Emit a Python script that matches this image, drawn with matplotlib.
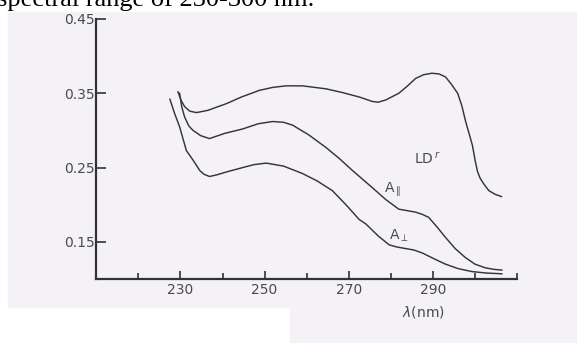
import matplotlib.pyplot as plt
from matplotlib.patches import Rectangle

# wavelength (nm) / absorbance
ld_x = [229.4, 230.2, 231.0, 232.2, 233.8, 236.5, 240.9, 244.5, 248.8, 252.0,
        255.1, 259.0, 264.6, 268.5, 272.5, 275.6, 277.0, 278.8, 281.9, 283.8,
        285.9, 287.8, 289.8, 291.5, 293.0, 294.3, 295.9, 296.9, 297.7, 298.8,
        299.4, 300.1, 300.6, 301.2, 302.1, 303.3, 304.8, 306.3]
ld_y = [0.352, 0.340, 0.332, 0.326, 0.324, 0.327, 0.336, 0.345, 0.354, 0.358,
        0.360, 0.360, 0.356, 0.351, 0.345, 0.339, 0.338, 0.341, 0.350, 0.359,
        0.370, 0.375, 0.377, 0.376, 0.372, 0.363, 0.350, 0.333, 0.314, 0.292,
        0.280, 0.258, 0.245, 0.236, 0.228, 0.219, 0.214, 0.211]

apar_x = [229.8, 230.3, 231.0, 232.0, 233.0, 234.8, 236.9, 240.5, 244.8, 248.5,
          251.9, 254.5, 256.7, 260.5, 264.6, 267.8, 270.9, 275.6, 278.8, 281.9,
          283.9, 285.9, 287.5, 289.0, 291.0, 293.0, 295.3, 297.7, 300.0, 302.5,
          304.5, 306.4]
apar_y = [0.350, 0.332, 0.318, 0.306, 0.300, 0.293, 0.289, 0.296, 0.302, 0.309,
          0.312, 0.311, 0.307, 0.294, 0.277, 0.262, 0.246, 0.223, 0.207, 0.194,
          0.192, 0.190, 0.187, 0.183, 0.170, 0.156, 0.141, 0.129, 0.120, 0.115,
          0.113, 0.112]

aperp_x = [227.5, 228.6, 229.8, 230.6, 231.4, 233.0, 234.6, 235.6, 236.9, 238.5,
           241.5, 244.8, 247.5, 250.4, 254.5, 259.0, 262.5, 266.1, 269.5, 272.5,
           274.1, 277.0, 279.6, 281.5, 283.5, 285.5, 287.5, 290.0, 293.0, 296.0,
           299.3, 302.8, 306.4]
aperp_y = [0.342, 0.323, 0.305, 0.289, 0.273, 0.260, 0.246, 0.241, 0.238, 0.240,
           0.245, 0.250, 0.254, 0.256, 0.252, 0.242, 0.232, 0.219, 0.199, 0.180,
           0.174, 0.158, 0.146, 0.143, 0.141, 0.139, 0.135, 0.128, 0.120, 0.114,
           0.110, 0.108, 0.107]

xticks_major = [230, 250, 270, 290]
xticks_minor = [220, 240, 260, 280, 300, 310]
yticks = [0.15, 0.25, 0.35, 0.45]

W, H = 577, 343
fig = plt.figure(figsize=(W / 100, H / 100), dpi=100)
fig.patch.set_facecolor('white')

# scanned page background
bg = '#f4f2f6'
fig.patches.append(Rectangle((8 / W, 1 - 307 / H), (W - 8) / W, (307 - 12) / H,
                             transform=fig.transFigure, color=bg, zorder=-5))
fig.patches.append(Rectangle((290 / W, 0), (W - 290) / W, 36 / H,
                             transform=fig.transFigure, color=bg, zorder=-5))

# cut-off line of document text above the scan
fig.text(-3 / W, 1 - 6 / H, 'spectral range of 230-300 nm.', family='Liberation Serif',
         fontsize=19, color='black', va='baseline', ha='left')

ax = fig.add_axes([96.3 / W, 1 - 279 / H, (517 - 96.3) / W, (279 - 19) / H])
ax.set_facecolor('none')

line_c = '#363636'
ax.plot(ld_x, ld_y, color=line_c, lw=1.05)
ax.plot(apar_x, apar_y, color=line_c, lw=1.05)
ax.plot(aperp_x, aperp_y, color=line_c, lw=1.05)

txt_c = '#4a4a4a'
ax.text(285.5, 0.262, r'LD$^{\,r}$', fontsize=10, color=txt_c, va='center')
ax.text(278.4, 0.220, r'A$_{\parallel}$', fontsize=10, color=txt_c, va='center')
ax.text(279.6, 0.158, r'A$_{\perp}$', fontsize=10, color=txt_c, va='center')

ax.set_xlim(210, 310)
ax.set_ylim(0.10, 0.45)
for s in ['top', 'right']:
    ax.spines[s].set_visible(False)
for s in ['left', 'bottom']:
    ax.spines[s].set_linewidth(1.6)
    ax.spines[s].set_color('#333333')

ax.set_xticks(xticks_major)
ax.set_xticks(xticks_minor, minor=True)
ax.set_yticks(yticks)
ax.set_yticklabels(['%.2f' % v for v in yticks])
ax.tick_params(axis='x', which='major', direction='in', length=6, width=1.2,
               color='#333333', labelsize=10, labelcolor=txt_c, pad=3)
ax.tick_params(axis='x', which='minor', direction='in', length=4, width=1.2,
               color='#333333')
ax.tick_params(axis='y', direction='in', length=7, width=1.2,
               color='#333333', labelsize=10, labelcolor=txt_c, pad=1)

fig.text(423.5 / W, 1 - 312 / H, r'$\lambda$(nm)', fontsize=10, color=txt_c,
         ha='center', va='center')

fig.savefig('out.png', dpi=100)
